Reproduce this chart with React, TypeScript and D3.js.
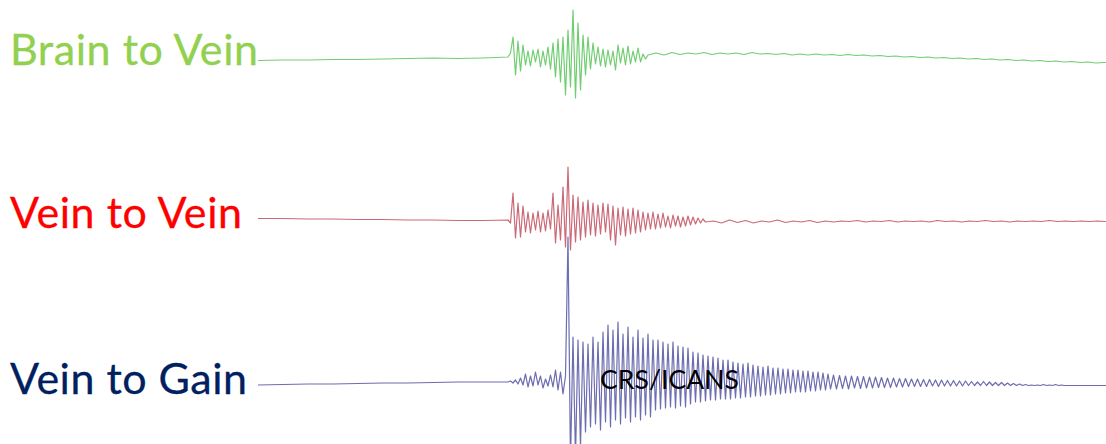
import React, { useEffect } from "react";
import * as d3 from "d3";

// Trace timing: a slow lead-in, a finely sampled burst, then a decaying tail.
const LEAD_STEP = 25;
const BURST_STEP = 2.5;
const BURST_START = 250;
const TRACE_END = 848;

const rowLabels = ["Brain to Vein", "Vein to Vein", "Vein to Gain"];
const rowColors = ["#92d050", "#ff0000", "#002060"];
const traceColors = ["#63c863", "#c45a68", "#5c5ca6"];
const overlayLabel = "CRS/ICANS";

// Brain to Vein
const greenLead = [-3.5, -3, -3, -2.5, -2.5, -2, -1.5, -1, -1.5, -1];
const greenBurst = [
  0, 4, 20, -18, 16, -14, 12, -8, 6, -9, 7, -5, 8, -10, 6, -8, 10, -12, 14, -20,
  18, -25, 20, -38, 27, -30, 47, -41, 34, -33, 22, -18, 20, -12, 14, -7, 10, -9, 8, -10,
  7, -8, 6, -13, 12, -6, 9, -8, 11, -7, 6, -5, 9, -5, 3, -2, 2,
];
const greenTailStep = 8;
const greenTail = [
  4, 2, 4.5, 2.5, 4, 3, 4.5, 2.5, 4, 3, 4, 2.5, 4.5, 3, 3.5, 2.5, 3.5, 2, 3, 2,
  3, 2, 2.5, 1.5, 2.5, 1.5, 2, 1, 1.5, 0.5, 1, 0, 0.5, -0.5, 0, -1, -0.5, -1.5, -1, -2,
  -1.5, -2.5, -2, -3, -2.5, -3.5, -3, -4, -3.5, -4.5, -4, -5, -4.5, -5.5, -5, -6, -5.5,
];

// Vein to Vein
const redLead = [1.5, 1.5, 1, 1, 0.5, 0.5, 0, 0, -0.5, -0.5];
const redBurst = [
  0, -3, 27, -18, 17, -17, 14, -12, 8, -13, 7, -10, 9, -12, 7, -11, 10, -9, 27, -23,
  15, -20, 33, -27, 53, -30, 25, -22, 23, -20, 18, -17, 20, -15, 17, -16, 15, -14, 17, -12,
  16, -20, 14, -25, 12, -15, 13, -16, 11, -14, 12, -13, 10, -12, 8, -10, 7, -9, 8, -9,
  6, -8, 7, -7, 4, -8, 5, -6, 4, -7, 3, -6, 4, -5, 3, -4, 2, -3, 1, -2,
];
const redTailStep = 8;
const redTail = [
  -1, -3, 0, -2.5, -0.5, -3, -1, -2, 0, -2.5, -1, -2, -0.5, -2.5, -1, -2, -1, -1.5, -0.5, -2,
  -1, -1.5, -0.5, -2, -1, -1.5, -1, -2, -0.5, -1.5, -1, -2, -1, -1.5, -0.5, -1.5, -1, -2, -1, -1.5,
  -1, -1.5, -0.5, -1.5, -1, -1.5, -1, -1.5, -1, -1.5,
];

// Vein to Gain
const blueLead = [-3, -2.5, -2, -2, -1.5, -1, -1, -0.5, 0, 0];
const blueBurst = [
  0, 1, -1, 2, -2, 4, -3, 8, -5, 6, -4, 10, -3, 6, -6, 3, -4, 7, -5, 12,
  -8, 10, -12, 6, 145, -80, 45, -75, 42, -65, 40, -50, 38, -45, 45, -42, 40, -48, 50, -40,
  57, -45, 52, -38, 60, -42, 48, -36, 55, -40, 45, -35, 52, -38, 44, -33, 48, -35, 42, -28,
  42, -27, 40, -26, 38, -25, 40, -26, 36, -24, 35, -25, 34, -22, 30, -20, 29, -20, 27, -19,
  26, -18, 25, -18, 24, -17, 22, -17, 22, -17, 20, -16, 19, -16, 18, -15, 19, -15, 17, -14,
  16, -14, 15, -13, 16, -13, 14, -12, 14, -12, 13, -11, 13, -11, 12, -10, 12, -10, 11, -10,
  11, -9, 10, -9, 10, -8, 9, -8, 8, -7,
];
const blueTailStep = 3;
const blueTail = [
  7, -7, 6.5, -6.5, 6, -7, 6, -6, 5.5, -6.5, 5.5, -6, 5, -6, 5, -5.5, 4.5, -5.5, 4, -5.5,
  4, -5, 3.5, -5, 3.5, -4.5, 3, -4.5, 3, -4.5, 2.5, -4.5, 2.5, -4, 2, -4.5, 2, -4, 1.5, -4,
  1.5, -4, 1, -4, 1, -3.5, 0.5, -3.5, 0, -3.5, 0.5, -3.5, 0, -3.5, -0.5, -3.5, -0.5, -3.5, -1, -3.5,
  -1.5, -3.5, -2, -3.5, -2.5, -3.5, -3, -3.5, -3, -3.5, -2.5, -3.5, -3, -3.5, -2.5, -3.5, -3, -3.5,
  -3.5, -3.5,
];

const rowCenters = [57, 220, 382];
const labelBaselines = [65, 228, 394];
const labelLengths = [248, 232, 237];

type Trace = { lead: number[]; burst: number[]; tail: number[]; tailStep: number };
const traces: Trace[] = [
  { lead: greenLead, burst: greenBurst, tail: greenTail, tailStep: greenTailStep },
  { lead: redLead, burst: redBurst, tail: redTail, tailStep: redTailStep },
  { lead: blueLead, burst: blueBurst, tail: blueTail, tailStep: blueTailStep },
];

function samples(tr: Trace): [number, number][] {
  const pts: [number, number][] = [];
  tr.lead.forEach((v, i) => pts.push([i * LEAD_STEP, v]));
  tr.burst.forEach((v, i) => pts.push([BURST_START + i * BURST_STEP, v]));
  const burstEnd = BURST_START + (tr.burst.length - 1) * BURST_STEP;
  tr.tail.forEach((v, i) => pts.push([burstEnd + (i + 1) * tr.tailStep, v]));
  pts.push([TRACE_END, tr.tail[tr.tail.length - 1]]);
  return pts;
}

export default function App() {
  useEffect(() => {
    document.body.style.margin = "0";
  }, []);

  const W = 1106;
  const H = 444;
  const x = d3.scaleLinear().domain([0, TRACE_END]).range([258, 1106]);
  const amp = d3.scaleLinear().domain([-150, 150]).range([150, -150]);
  const line = d3
    .line<[number, number]>()
    .x((d) => x(d[0]))
    .y((d) => amp(d[1]));

  const labelFont = "Lato, 'Open Sans', sans-serif";

  return (
    <svg
      width={W}
      height={H}
      style={{ position: "absolute", left: 0, top: 0, display: "block", background: "#fff" }}
    >
      <defs>
        <filter id="soft" x="-5%" y="-5%" width="110%" height="110%">
          <feGaussianBlur stdDeviation="0.5" />
        </filter>
      </defs>
      <rect width={W} height={H} fill="#fff" />
      {traces.map((tr, i) => (
        <g key={i} transform={`translate(0,${rowCenters[i]})`} filter="url(#soft)">
          <path
            d={line(samples(tr)) || ""}
            fill="none"
            stroke={traceColors[i]}
            strokeWidth={1.2}
            strokeOpacity={0.9}
            strokeLinejoin="round"
          />
        </g>
      ))}
      {rowLabels.map((t, i) => (
        <text
          key={t}
          x={10}
          y={labelBaselines[i]}
          fill={rowColors[i]}
          stroke={rowColors[i]}
          strokeWidth={0.3}
          fontFamily={labelFont}
          fontSize={43}
          textLength={labelLengths[i]}
          lengthAdjust="spacing"
        >
          {t}
        </text>
      ))}
      <text
        x={600}
        y={389}
        fill="#000"
        fontFamily={labelFont}
        fontSize={26.5}
        textLength={139}
        lengthAdjust="spacing"
      >
        {overlayLabel}
      </text>
    </svg>
  );
}
